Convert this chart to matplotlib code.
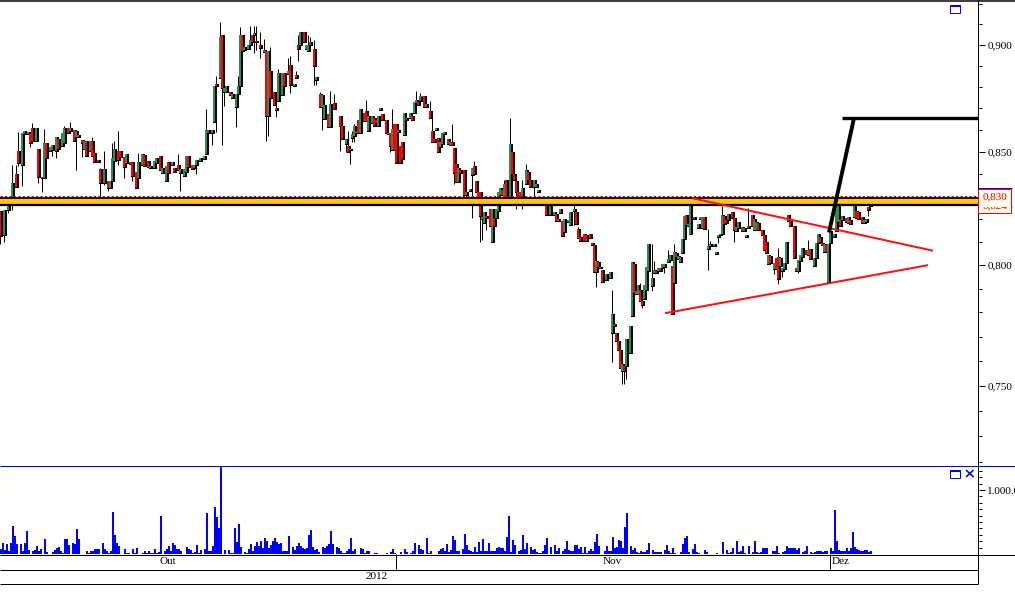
import matplotlib
matplotlib.use("Agg")
import matplotlib.pyplot as plt
from matplotlib.lines import Line2D
from matplotlib.patches import Rectangle
from matplotlib.ticker import FixedLocator, FixedFormatter, NullFormatter
from matplotlib.transforms import Affine2D

W, H = 1015, 601
SERIF = "Liberation Serif"

# session slot of every candle (time axis, gaps = no trading)
sessions = [
0,2,4,5,6,8,9,11,12,14, 15,16,18,19,21,22,23,25,26,28, 29,31,32,34,35,37,38,39,41,42,
43,45,46,47,49,50,52,54,55,56, 57,59,60,62,63,65,66,68,69,71, 72,74,75,77,78,80,81,83,84,86,
87,89,90,92,93,94,96,97,98,100, 102,103,104,106,107,108,110,111,112,113, 115,116,118,119,120,121,122,124,125,126,
127,128,130,132,133,134,135,137,138,139, 141,142,144,145,147,148,149,150,152,153, 154,155,157,158,160,161,162,164,165,167,
170,171,173,174,175,176,177,178,179,180, 182,183,184,186,187,188,189,190,191,193, 194,195,196,197,198,199,200,201,202,203,
205,206,207,208,209,210,211,212,213,215, 216,217,218,219,220,221,222,224,225,226, 227,228,229,230,232,233,235,236,237,238,
239,240,241,242,243,245,246,247,248,249, 250,251,252,253,255,256,257,258,259,260, 261,263,264,265,267,268,269,270,271,273,
274,275,277,278,279,280,281,282,284,285, 287,288,289,290,292,293,295,296,297,298, 299,300,301,303,305,306,307,308,309,310,
311,312,313,315,316,317,318,319,320,321, 322,323,324,326,327,328,329,330,331,332, 334,335,336,337,338,339,
340,341,342,343,344,345,347,349,350,351, 352,354,355,357,358,359,360,361,362,363, 364,366,367,368,369,371,372,373,374,376,
377,378,379,381,382,383,384,385,387,388, 389,390,391,392,393,394,395,397,398,399, 400,401,403,404,405,407,408,409,410,411,
412,413,414,415,417,418,419,420,421,423, 424,425,427,428,429,431,432,433,434,435,
]

# open and close, in thousandths of the price unit
opens = [
823.6,813,824,826,826,840,850.4,844,858,858, 858,861,855,851.5,838.8,838,854,850.4,851,850.4,
856,852.7,854,860.8,859.7,860,856.6,856.6,855.3,851.5, 855,850.4,855,849.3,846.5,842,836,837,833.8,837,
845.7,850.4,850.4,847.7,845,845.3,845.3,841,838,844, 848.4,846,842.6,842.6,845,848,840.6,836.9,845.3,843.9,
842.6,843.9,840.6,839,841,848,843.9,842.6,844.2,846, 846.8,848.8,860.1,858.6,863.5,881.4,884,904.6,877.5,877.5,
877.5,874.7,870.5,876.7,880.3,904.6,897.7,898,900,904.6, 905,902,900,896.4,896.9,866.6,887.6,877.5,869,873.6,
876.3,886.5,886,890.2,880.3,885.6,900,900,906.2,898, 896.9,900,898,883.4,876.7,870.5,865.1,867.4,861.2,872.4,
866.5,861.9,853.5,852.7,850.7,856.5,857.3,859.3,864.5,858.5, 868,868.8,859.6,863.4,865.4,864.5,861.9,869,867.5,864.5,
858,858.8,850.7,862.7,862.7,859.1,852.7,854.3,857.6,865.7,
865.7,866.5,867.7,872.6,873,873.3,875.2,875.6,870.6,868.8, 859.3,855.8,859.9,856.5,852,853.5,858,855.8,853.2,854.3,
851.7,844.6,836.4,841.6,841.6,830.7,832.2,839.5,843.5,836.7,
831.7,831.7,820,818.4,821.3,824.3,810.1,820.5,820.5,823.3, 830.4,832.8,829.8,837.4,829.6,849.7,840,836.7,831.7,831.7,
827.9,835.5,841,837.4,834,834,831.7,828.9,827,826.5,
825.5,821.6,821.6,822.1,819.3,822.7,819.3,814.1,818.8,817.2, 823.6,823.1,815.6,812.3,813.3,812.8,813.3,809.5,808.8,797.1,
801.4,798.6,797.8,793.7,794.7,771.6,775.2,771.6,768.1,764.6,
755.8,757.9,757.9,763.2,778.7,800.5,787.7,787.7,789.6,785, 785.8,789.6,797.3,791.3,796.5,797.5,797.5,798.9,798.9,799.2,
801.4,802.1,799.6,792.2,805.3,802.8,
801.4,805.2,811.1,821.6,816.9,813.3,820.9,816.1,820.2,816.1, 820.9,806.9,808.3,808.3,805,812.2,812.8,813.5,821.2,819.5,
819.5,823,820.6,814.9,815.9,816.3,814.9,812.2,815.9,821.6,
815.1,815.1,818.3,815.1,813,809.8,800.4,804.1,798.3,802.9, 803.6,799.7,797.5,798.3,801,821.7,819.3,816.9,798.9,797.5,
801.7,803.6,806.5,804.5,807,799.7,803,809.5,812.3,809.5,
805.8,808.6,792.9,809.6,812.1,814.6,818.5,820.2,819.5,820.5, 818.1,819.5,820.9,823.7,823,820.9,818.1,818.8,825.4,825.6,
]
closes = [
812.7,824,826.4,827,836,834,845,858.4,859.4,859, 854,855,861,838.8,838,854,847,852,853,856.6,
851.5,858.4,860.8,858.4,860.8,855,859.4,857.7,854,855, 848,855,848,845.3,845.3,836,842,833.8,837,847.3,
851.5,846.2,847.7,843,848.8,844.6,839,833.8,845.3,849, 843.7,843,843.4,845.7,847.3,841.8,842.6,843.4,840.3,845.3,
841,841.8,842.2,842.2,848,843,842.2,843.9,846.5,847.3, 848,860.1,858.6,860.1,880.3,880.3,903.9,879.4,879.4,880.3,
876.3,876.7,876.7,880.3,904.6,896.9,899.2,900,902.6,901.5, 905.9,901.2,898.4,897.7,866.3,896.9,874.7,871.6,870,886.5,
886.5,880.3,887.6,880.9,881.4,884,898,906.2,901.5,900, 900,901.5,889.9,884.5,870.5,876,871.6,861.2,872,869.7,
862,855.8,855.8,849.7,851.5,858,861.9,858.4,858.5,869.5, 864.2,864.2,866.5,866.5,861.9,863,866.5,870,864.5,858.5,
858.8,852.7,860.4,850.7,844.8,859.9,844.8,846.6,867.7,864.5,
867.7,864.5,873,874.1,871.5,875.6,875.9,870.6,871.8,865.4, 854.3,854.3,860.8,849.7,854.5,858.8,859.1,853.5,854.3,853.2,
840.5,836.4,842.5,840.5,830.7,831.7,833.2,842.5,839.8,831.7,
829.6,821.1,820.9,823.1,820.3,816.9,824.3,816.9,824.3,831.7, 833.6,830.7,835.5,829.6,853.5,840,837.4,831.7,829.3,829.3,
833.6,841.6,837.4,834,837.4,835.5,833,829.6,828,821.6,
827.6,828.3,823.1,819.3,820,824.6,812.5,820,819.7,823.1, 824.6,817.9,811.6,810.5,810.5,810.5,811.6,808.8,797.1,801.7,
799.2,799.2,792.9,796.1,797.1,779.4,774.5,768.1,764.6,757.2,
759,755.8,769.1,774.5,801.4,788.2,788.9,791.7,784.7,783, 791.7,799,809.3,794.4,797.9,796.5,798.6,797.5,800.3,800.3,
802.8,804.2,779.4,805.6,803.5,803.8,
803.6,811.1,821.5,817.3,817.7,828.3,819.8,817.9,820.9,820.9, 815.5,808.3,809,809,805.7,813.2,813.5,821.6,817.7,818.1,
822,820.6,815.1,816.6,818.8,814.9,815.9,813,816.9,816.9,
820.2,818.8,815.1,813,806.6,805.2,804.5,800.8,800.8,798.3, 794.3,803,798.9,801,810,819.3,817,803,797.5,802.3,
804.2,807.2,804.7,806.5,802.8,803,809.5,813.3,810.1,808.6,
808.9,805.8,808.9,814.6,813.5,828.7,825.6,816.9,821.3,818.8, 821,817.8,826.9,820.6,820.2,818.3,819.5,820,824,829.5,
]

# wick ends, by session slot, where they pass the body
wick_high = {
6:844,8:844,9:859,16:863,22:860.5,32:862,35:863.5,46:856.6,50:842.6,52:850.4,56:854.2,57:855,
59:859.7,69:849.6,89:849.1,103:869.7,108:885.2,110:911.1,119:885.2,120:908.5,125:909.3,127:909.3,
128:909.3,130:906.2,132:903,135:899.2,138:874.4,139:888.4,144:893.8,145:894.5,148:887.6,149:904.6,
154:904.6,155:903.9,157:902.3,160:877.5,165:878.3,167:876.7,174:859.6,176:859.6,177:862.7,183:874.1,
196:869.5,208:878.2,210:877,215:873.3,216:865.4,226:862.7,237:845.9,252:837.4,255:865.4,261:837.4,
263:844.6,287:826.1,289:816.6,306:789.3,318:792.4,320:792.4,326:809,327:801.7,334:806.3,337:809,
345:829.5,354:815.5,355:810.4,361:825.9,374:825,389:807.5,404:811,435:830.2,
}
wick_low = {
0:809.3,2:810,4:822.5,5:824,6:824,9:843.4,11:834.6,15:852,19:836,21:831.8,26:848,28:847.3,38:841.8,
41:847.7,50:827.9,52:834.9,54:832.5,59:844.2,62:838,66:837,90:832.5,98:840,104:855,106:853.2,108:858.9,
111:853.2,112:871.3,118:861.2,127:896.1,128:897.7,130:893.8,133:855,134:857.3,138:865.9,145:877.2,
149:892.5,157:880.9,158:880.9,161:860.1,170:850.4,173:849.7,175:844.6,176:854.3,177:854.3,195:849.7,
227:835.5,232:827.9,233:828,236:820.5,240:810.1,241:811,243:815.1,258:824.6,261:824.6,267:827,287:817.5,
298:790.9,306:759.8,311:750.8,312:750.8,313:752.6,321:781.9,326:789,332:796.5,354:797.8,359:809.6,
367:810.1,387:796.3,389:792,391:795,399:796.8,434:821.5,
}

# volume in thousands, one value per session slot
volumes = [
78,166,62,156,52,166,442,286,156,0, 156,52,166,364,62,0,52,62,130,52,
78,0,234,26,0,0,26,62,94,114, 52,16,234,234,146,0,172,156,390,234,
0,0,0,52,16,52,52,78,78,78, 0,172,78,42,16,42,660,296,172,130,
0,0,78,16,16,0,78,16,94,0, 0,16,52,16,52,16,16,78,16,26,
598,0,42,78,130,52,172,146,78,78, 52,0,0,114,83,62,16,26,146,16,
62,0,78,645,52,42,130,733,582,411, 1352,0,62,0,62,16,16,406,192,468,
114,0,26,16,78,156,42,125,192,125, 208,94,250,208,94,146,208,250,182,156,
172,52,52,52,286,0,104,62,130,172, 130,94,78,94,302,374,114,62,78,26,
0,114,94,130,156,364,156,0,114,94, 42,16,16,42,78,250,42,78,0,0,
94,78,16,42,52,0,0,16,16,0, 0,0,0,16,0,26,78,16,0,0,
26,0,78,26,0,16,42,172,0,140, 78,62,0,250,16,42,0,0,0,42,
78,94,52,156,26,62,286,218,42,52, 0,78,312,140,62,42,26,104,26,192,
52,234,42,42,172,42,42,42,94,114, 94,94,52,260,598,26,218,146,0,52,
62,302,78,172,0,104,62,78,26,16, 16,42,146,250,0,114,0,146,42,94,
0,52,78,208,62,42,52,140,140,78, 104,16,114,16,42,78,52,187,312,130,
0,0,42,130,42,42,270,94,104,224, 208,94,426,640,0,130,62,94,26,16,
52,26,26,62,172,0,62,26,26,26, 26,0,62,140,42,16,94,16,0,0,
26,156,250,286,26,0,78,156,26,16, 0,0,62,26,0,0,0,0,16,0,
0,187,0,62,16,26,94,0,208,26, 42,130,16,0,130,0,26,208,26,16,
26,94,94,94,0,0,52,52,130,16, 0,26,52,130,94,94,94,94,62,94,
0,26,52,130,0,26,16,26,52,52, 42,26,42,42,0,94,42,692,208,62,
52,52,42,94,52,94,348,104,78,62, 52,52,62,62,26,52,
]

# drawn studies
band_top, band_bottom = 0.8292, 0.8260
last_price = 0.830
resist_x, resist_y = [346, 466.5], [0.8292, 0.8062]
support_x, support_y = [332.5, 464], [0.7797, 0.8000]
target_x, target_y = [414.5, 427], [0.8141, 0.8655]
target_level_x, target_level_y = [421, 489], [0.8655, 0.8655]

price_majors = [0.75, 0.80, 0.85, 0.90]
price_labels = ["0,750", "0,800", "0,850", "0,900"]
price_minors = [0.72, 0.73, 0.74, 0.76, 0.77, 0.78, 0.79, 0.81, 0.82, 0.83, 0.84, 0.86, 0.87, 0.88, 0.89, 0.91, 0.92]
month_labels = ["Out", "Nov", "Dez"]
month_pos = [84, 306, 420.5]
month_breaks = [198, 415]
year_label, year_pos = "2012", 188.5

fig = plt.figure(figsize=(W / 100, H / 100), dpi=100, facecolor="white")
px = Affine2D().scale(1 / W, -1 / H).translate(0, 1) + fig.transFigure


def axes_px(x0, y0, x1, y1):
    return fig.add_axes([x0 / W, 1 - y1 / H, (x1 - x0) / W, (y1 - y0) / H])


def line_px(xs, ys, color="black", lw=1.0):
    fig.add_artist(Line2D(xs, ys, transform=px, color=color, lw=lw * 0.72, zorder=10, solid_capstyle="butt"))


XMAX = 978.5 / 2
ax = axes_px(0, 1, 978.5, 465)
ax.set_xlim(0, XMAX)
ax.set_yscale("log")
ax.set_ylim(0.7189, 0.9214)
for s in ax.spines.values():
    s.set_visible(False)
ax.xaxis.set_visible(False)
ax.yaxis.tick_right()
ax.yaxis.set_major_locator(FixedLocator(price_majors))
ax.yaxis.set_major_formatter(FixedFormatter(price_labels))
ax.yaxis.set_minor_locator(FixedLocator(price_minors))
ax.yaxis.set_minor_formatter(NullFormatter())
ax.tick_params(axis="y", which="major", length=4.3, width=0.72, pad=2, labelsize=8, labelfontfamily=SERIF)
ax.tick_params(axis="y", which="minor", length=2.2, width=0.72)

o = [v / 1000 for v in opens]
c = [v / 1000 for v in closes]
hi = [max(wick_high.get(s, 0) / 1000, a, b) for s, a, b in zip(sessions, o, c)]
lo = [min(wick_low.get(s, 9999) / 1000, a, b) for s, a, b in zip(sessions, o, c)]
ax.vlines(sessions, lo, hi, color="black", lw=0.72, zorder=2)
cols = ["#2E8B57" if b >= a else "#FF0000" for a, b in zip(o, c)]
tops = [max(a, b) for a, b in zip(o, c)]
bots = [min(a, b) for a, b in zip(o, c)]
hts = [t - b for t, b in zip(tops, bots)]
# black casing first, then every body's fill on top so each colour stays visible
ax.bar(sessions, hts, bottom=bots, width=1.5, color="black", edgecolor="black",
       linewidth=0.72, antialiased=False, zorder=3)
ax.bar(sessions, hts, bottom=bots, width=0.7, color=cols, linewidth=0, antialiased=False, zorder=3.5)

ax.axhspan(band_bottom, band_top, color="#FFC60B", lw=0, zorder=4)
ax.axhline(band_top, color="black", lw=1.3, zorder=5)
ax.axhline(band_bottom, color="black", lw=1.6, zorder=5)
ax.axhline(last_price, color="#E00000", lw=0.8, ls=(0, (2, 2)), zorder=5)

ax.plot(resist_x, resist_y, color="#FF1010", lw=1.45, zorder=6, solid_capstyle="butt")
ax.plot(support_x, support_y, color="#FF1010", lw=1.45, zorder=6, solid_capstyle="butt")
ax.plot(target_x, target_y, color="black", lw=2.8, zorder=7, solid_capstyle="butt")
ax.plot(target_level_x, target_level_y, color="black", lw=2.4, zorder=7, solid_capstyle="butt")

vol = axes_px(0, 466, 978.5, 554)
vol.set_xlim(0, XMAX)
vol.set_ylim(0, 1375)
for s in vol.spines.values():
    s.set_visible(False)
vol.xaxis.set_visible(False)
vol.yaxis.tick_right()
vol.bar([i + 0.5 for i in range(len(volumes))], volumes, width=1.0, color="#0000FF", linewidth=0, antialiased=False)
vol.set_yticks([1000], ["1.000.000"])
vol.set_yticks([v for v in range(100, 1400, 100) if v != 1000], minor=True)
vol.tick_params(axis="y", which="major", length=4.3, width=0.72, pad=2, labelsize=8, labelfontfamily=SERIF)
vol.tick_params(axis="y", which="minor", length=2.2, width=0.72)

band = axes_px(0, 554, 978.5, 583)
band.set_xlim(0, XMAX)
band.set_ylim(0, 1)
band.axis("off")
for t, p in zip(month_labels, month_pos):
    band.text(p, 0.74, t, ha="center", va="center", family=SERIF, fontsize=8)
band.text(year_pos, 0.24, year_label, ha="center", va="center", family=SERIF, fontsize=8)
band.vlines(month_breaks, 0.48, 1, color="black", lw=0.72)

# frame and chrome
line_px([0, W], [0.5, 0.5], lw=1.5)
line_px([0, W], [465.5, 465.5], color="#0000E0")
line_px([0, W], [554.5, 554.5])
line_px([0, 978.5], [569.5, 569.5])
line_px([0, 978.5], [583.5, 583.5])
line_px([978.5, 978.5], [0, 583.5])

for yy in (4.5, 469.5):
    fig.add_artist(Rectangle((950.5, yy), 10, 8, transform=px, fc="none", ec="#0000FF", lw=0.72, zorder=12))
    line_px([950.5, 960.5], [yy + 1, yy + 1], color="#0000FF")
line_px([966, 973.5], [470, 477], color="#0000FF", lw=1.6)
line_px([966, 973.5], [477, 470], color="#0000FF", lw=1.6)

# last-price labels
fig.add_artist(Rectangle((978.5, 188.5), 33, 24, transform=px, fc="#FFFDEE", ec="#FF0000", lw=0.72, zorder=12))
line_px([978.5, 1012], [187.5, 187.5], color="#0000E0")
line_px([978.5, 1012], [206.5, 206.5], color="#FF0000")
fig.text(983 / W, 1 - 197 / H, "0,830", color="#FF0000", family=SERIF, fontsize=8, ha="left", va="center", zorder=13)
low_label = fig.text(983 / W, 1 - 206 / H, "0,824", color="#FF0000", family=SERIF, fontsize=8, ha="left", va="center", zorder=13)
low_label.set_clip_path(Rectangle((978.5, 207), 33, 5.5, transform=px))

fig.savefig("out.png", dpi=100, facecolor="white")
